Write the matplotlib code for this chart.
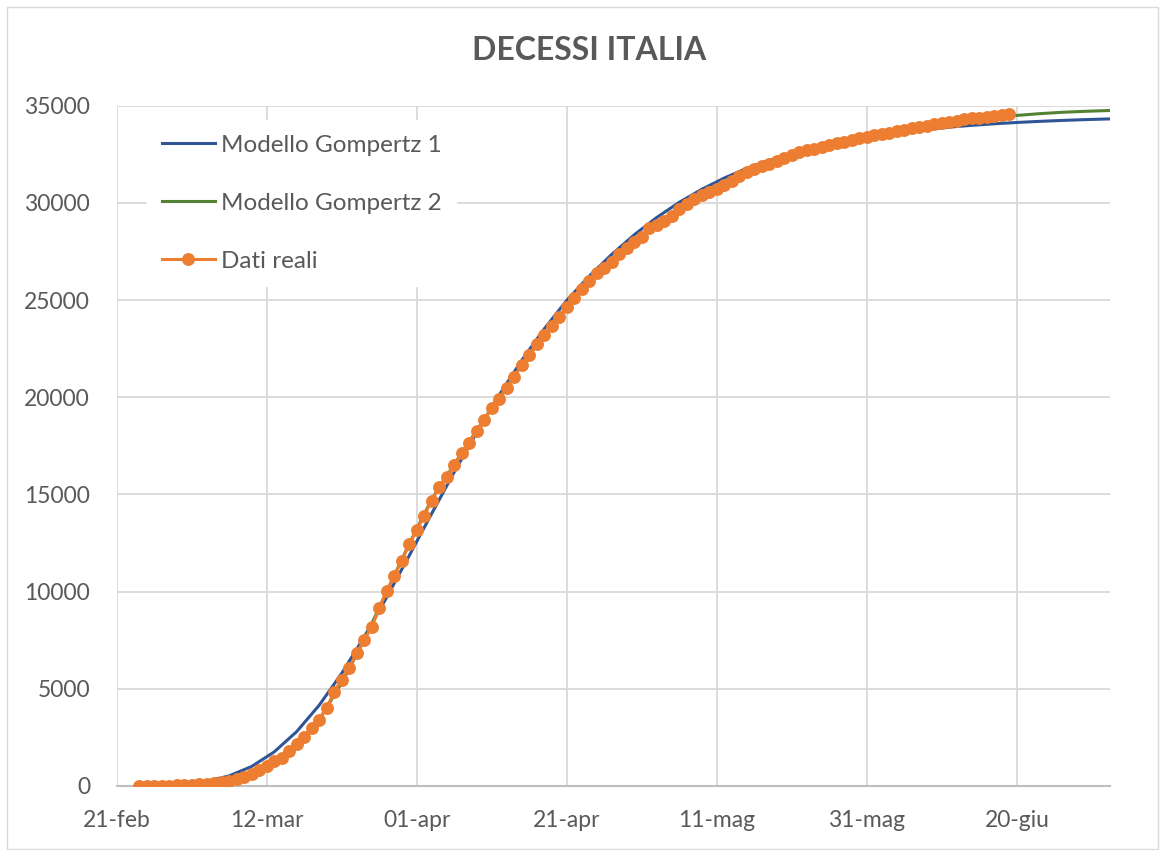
import matplotlib
matplotlib.use("Agg")
import matplotlib.pyplot as plt
from matplotlib.patches import Rectangle
import numpy as np

# ---------------- data ----------------
title = "DECESSI ITALIA"
x_tick_days = [0, 20, 40, 60, 80, 100, 120]
x_tick_labels = ["21-feb", "12-mar", "01-apr", "21-apr", "11-mag", "31-mag", "20-giu"]
y_ticks = [0, 5000, 10000, 15000, 20000, 25000, 30000, 35000]

# real data: cumulative deaths, daily from 24-feb (day 3) to 19-jun (day 119)
data_start_day = 3
dati_reali = [
    7, 10, 12, 17, 21, 29,
    34, 52, 79, 107, 148, 197, 233, 366, 463, 631, 827, 1016, 1266, 1441, 1809,
    2158, 2503, 2978, 3405, 4032, 4825, 5476, 6077, 6820, 7503, 8165, 9134,
    10023, 10779, 11591, 12428,
    13155, 13915, 14681, 15362, 15887, 16523, 17127, 17669, 18279, 18849, 19468,
    19899, 20465, 21067, 21645, 22170, 22745, 23227, 23660, 24114, 24648, 25085,
    25549, 25969, 26384, 26644, 26977, 27359, 27682, 27967,
    28236, 28710, 28884, 29079, 29315, 29684, 29958, 30201, 30395, 30560, 30739,
    30911, 31106, 31368, 31610, 31763, 31908, 32007, 32169, 32330, 32486, 32616,
    32735, 32785, 32877, 32955, 33072, 33142, 33229, 33340, 33415,
    33475, 33530, 33601, 33689, 33774, 33846, 33899, 33964, 34043, 34114, 34167,
    34223, 34301, 34345, 34371, 34405, 34448, 34514, 34561,
]

# model curves, sampled every 3 days from 24-feb (day 3)
model_start_day = 3
model_step = 3
gompertz_1 = [
    8, 31, 93, 237, 519, 1002, 1749, 2794, 4149, 5786, 7660, 9705, 11846,
    14013, 16146, 18192, 20117, 21898, 23517, 24980, 26230, 27350, 28360, 29250,
    30030, 30700, 31280, 31777, 32190, 32543, 32843, 33098, 33315, 33498, 33654,
    33786, 33897, 33991, 34070, 34137, 34194, 34242, 34283, 34317, 34345,
]
gompertz_2 = [
    7, 20, 40, 110, 240, 560, 1150, 2100, 3400, 5300, 7500, 10000, 12450,
    14750, 16550, 18300, 20000, 21650, 23200, 24600, 25900, 27000, 27950, 28850,
    29650, 30350, 30950, 31500, 31980, 32400, 32760, 33060, 33320, 33540, 33740,
    33920, 34080, 34230, 34370, 34500, 34590, 34660, 34710, 34750, 34780,
]

# ---------------- style ----------------
TXT = "#595959"
GRID = "#d9d9d9"
BLUE = "#2f5597"
GREEN = "#548235"
ORANGE = "#ed7d31"
FONT = ["Lato", "DejaVu Sans"]
plt.rcParams["font.family"] = FONT

W, H = 1160, 850
fig = plt.figure(figsize=(W / 100, H / 100), dpi=100)
fig.patch.set_facecolor("white")

# chart border
fig.patches.append(Rectangle((7 / W, 1 / H), (W - 9) / W, (H - 8) / H,
                             transform=fig.transFigure, fill=False,
                             edgecolor=GRID, linewidth=1.0))

left_px, right_px, top_px, bottom_px = 116.5, 1110, 105.7, 786
ax = fig.add_axes([left_px / W, (H - bottom_px) / H,
                   (right_px - left_px) / W, (bottom_px - top_px) / H])

model_days = model_start_day + np.arange(len(gompertz_1)) * model_step
data_days = data_start_day + np.arange(len(dati_reali))

ax.plot(model_days, gompertz_1, color=BLUE, lw=2.2, label="Modello Gompertz 1", zorder=3)
ax.plot(model_days, gompertz_2, color=GREEN, lw=2.2, label="Modello Gompertz 2", zorder=3)
ax.plot(data_days, dati_reali, color=ORANGE, lw=2.2, marker="o", markersize=9.3,
        markeredgewidth=0, label="Dati reali", zorder=4)

ax.set_xlim(0, 132.4)
ax.set_ylim(0, 35000)
ax.set_xticks(x_tick_days)
ax.set_xticklabels(x_tick_labels)
ax.set_yticks(y_ticks)
ax.set_yticklabels([str(v) for v in y_ticks])
ax.tick_params(axis="both", length=0, labelsize=16.5, labelcolor=TXT)
ax.tick_params(axis="x", pad=17)
ax.tick_params(axis="y", pad=19)
ax.grid(True, color=GRID, lw=1.3, zorder=0)
ax.set_axisbelow(True)
for s in ["top", "right", "left"]:
    ax.spines[s].set_visible(False)
ax.spines["bottom"].set_color("#bfbfbf")
ax.spines["bottom"].set_linewidth(1.5)

fig.text(589 / W, 1 - 51 / H, title, ha="center", va="center", fontsize=23,
         fontweight="bold", color=TXT)

leg = ax.legend(loc="upper left", bbox_to_anchor=(147 / W, 1 - 120 / H),
                bbox_transform=fig.transFigure, frameon=True, fancybox=False,
                edgecolor="white", facecolor="white", framealpha=1,
                fontsize=17.5, labelspacing=1.52, handlelength=2.2,
                handletextpad=0.25, borderpad=0.6, borderaxespad=0)
for t in leg.get_texts():
    t.set_color(TXT)
leg.set_zorder(5)

fig.savefig("out.png", dpi=100, facecolor="white")
